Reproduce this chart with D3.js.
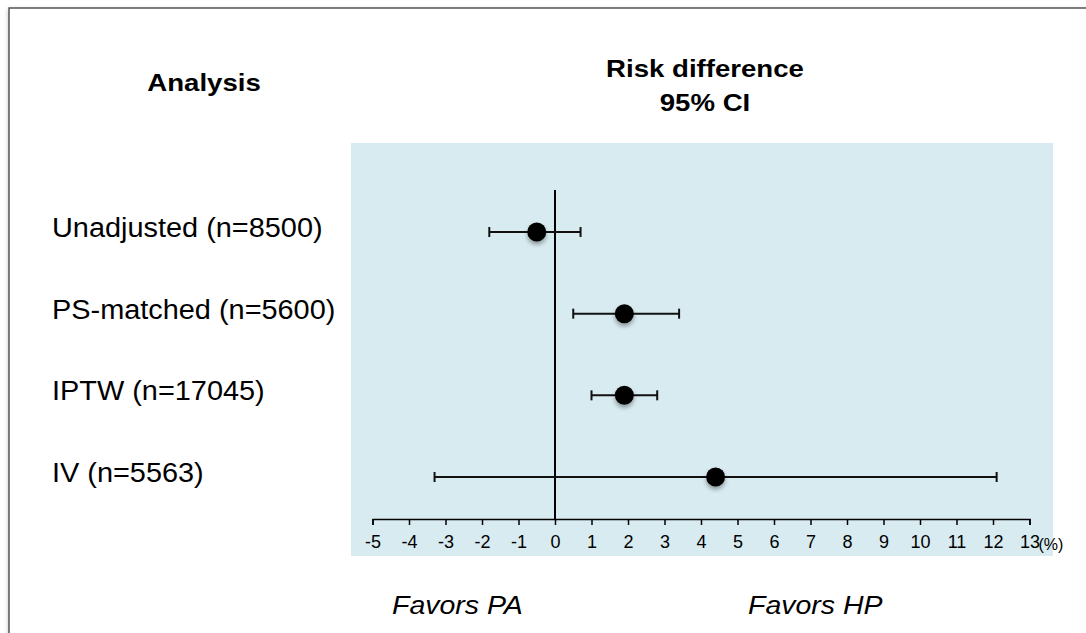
<!DOCTYPE html>
<html>
<head>
  <meta charset="utf-8">
  <title>Forest plot</title>
  <script src="https://cdnjs.cloudflare.com/ajax/libs/d3/7.8.5/d3.min.js"></script>
  <style>
    html, body { margin: 0; padding: 0; background: #fff; }
    svg { display: block; font-family: "Liberation Sans", Arial, sans-serif; }
  </style>
</head>
<body>
  <svg id="chart" width="1086" height="633"></svg>
  <script>
    // analyses, point estimates and 95% CI bounds (risk difference, %)
    let labels = ['Unadjusted (n=8500)', 'PS-matched (n=5600)', 'IPTW (n=17045)', 'IV (n=5563)']
    let estimate = [-0.5, 1.9, 1.9, 4.4]
    let lower = [-1.8, 0.5, 1.0, -3.3]
    let upper = [0.7, 3.4, 2.8, 12.1]
    let ticks = d3.range(-5, 14)

    let svg = d3.select('#chart')
    let defs = svg.append('defs')

    let shadow = defs.append('filter').attr('id', 'shadow')
      .attr('x', '-50%').attr('y', '-50%').attr('width', '200%').attr('height', '200%')
    shadow.append('feDropShadow')
      .attr('dx', 0).attr('dy', 3).attr('stdDeviation', 2)
      .attr('flood-color', '#000').attr('flood-opacity', 0.35)

    let frameShadow = defs.append('filter').attr('id', 'frameShadow')
      .attr('x', '-5%').attr('y', '-5%').attr('width', '110%').attr('height', '110%')
    frameShadow.append('feDropShadow')
      .attr('dx', 0).attr('dy', 2).attr('stdDeviation', 2)
      .attr('flood-color', '#000').attr('flood-opacity', 0.25)

    // the slide text is a bit wider than the font, so stretch it horizontally
    const stretched = (g, x, y, sx) => g.append('text')
      .attr('transform', `translate(${x},${y}) scale(${sx},1)`)

    // outer frame (runs off the right and bottom edges)
    svg.append('rect')
      .attr('x', 9).attr('y', 8).attr('width', 1200).attr('height', 800)
      .attr('fill', '#fff').attr('stroke', '#555').attr('stroke-width', 1.5)
      .attr('filter', 'url(#frameShadow)')

    let x = d3.scaleLinear().domain([-5, 13]).range([372.5, 1029.5])
    let y = d3.scalePoint().domain(labels).range([232, 477])

    // shaded plotting panel
    svg.append('rect')
      .attr('x', 351).attr('y', 143).attr('width', 702).attr('height', 413)
      .attr('fill', '#d7ebf0')

    // headers
    stretched(svg, 204, 91, 1.2)
      .attr('text-anchor', 'middle').attr('font-weight', 'bold').attr('font-size', 23)
      .text('Analysis')
    stretched(svg, 705, 77, 1.2)
      .attr('text-anchor', 'middle').attr('font-weight', 'bold').attr('font-size', 23)
      .text('Risk difference')
    stretched(svg, 705, 111, 1.2)
      .attr('text-anchor', 'middle').attr('font-weight', 'bold').attr('font-size', 23)
      .text('95% CI')

    // row labels
    labels.forEach(d => {
      stretched(svg, 52, y(d) + 5, 1.07).attr('font-size', 27).text(d)
    })

    // x axis
    let axis = svg.append('g').attr('transform', 'translate(0,519)')
      .call(d3.axisBottom(x).tickValues(ticks).tickSize(6).tickPadding(10).tickFormat(d => String(d)))
    axis.attr('font-size', 18).attr('font-family', '"Liberation Sans", Arial, sans-serif')
    axis.select('.domain').attr('stroke', '#000').attr('stroke-width', 1.5)
    axis.selectAll('.tick line').attr('stroke', '#000').attr('stroke-width', 1.5)
    axis.selectAll('.tick text').attr('fill', '#000')
    axis.append('text').attr('x', x(13) + 9).attr('y', 31)
      .attr('font-size', 16).attr('fill', '#000').attr('text-anchor', 'start')
      .text('(%)')

    // line of no effect
    svg.append('line')
      .attr('x1', x(0)).attr('x2', x(0)).attr('y1', 190).attr('y2', 519)
      .attr('stroke', '#000').attr('stroke-width', 2)

    // confidence intervals
    let rows = svg.append('g').selectAll('g').data(labels).join('g')
      .attr('transform', d => `translate(0,${y(d)})`)
    rows.append('line')
      .attr('x1', (d, i) => x(lower[i])).attr('x2', (d, i) => x(upper[i]))
      .attr('stroke', '#111').attr('stroke-width', 2)
    rows.append('line')
      .attr('x1', (d, i) => x(lower[i])).attr('x2', (d, i) => x(lower[i]))
      .attr('y1', -5).attr('y2', 5).attr('stroke', '#111').attr('stroke-width', 2)
    rows.append('line')
      .attr('x1', (d, i) => x(upper[i])).attr('x2', (d, i) => x(upper[i]))
      .attr('y1', -5).attr('y2', 5).attr('stroke', '#111').attr('stroke-width', 2)
    rows.append('circle')
      .attr('cx', (d, i) => x(estimate[i])).attr('r', 9.5)
      .attr('fill', '#000').attr('filter', 'url(#shadow)')

    // direction labels
    stretched(svg, 392, 614, 1.075)
      .attr('font-style', 'italic').attr('font-size', 26.5).text('Favors PA')
    stretched(svg, 748, 614, 1.075)
      .attr('font-style', 'italic').attr('font-size', 26.5).text('Favors HP')
  </script>
</body>
</html>
